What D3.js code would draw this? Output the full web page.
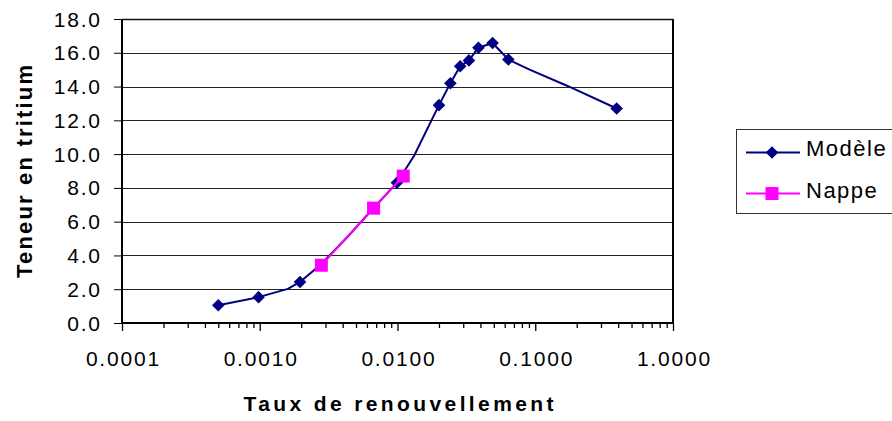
<!DOCTYPE html>
<html>
<head>
<meta charset="utf-8">
<script src="https://cdn.jsdelivr.net/npm/d3@7"></script>
<style>
  html, body { margin: 0; padding: 0; background: #fff; }
  svg { display: block; font-family: "Liberation Sans", Arial, sans-serif; }
</style>
</head>
<body>
<svg id="chart" width="892" height="421"></svg>
<script>
// ---- Data ----
// Modèle series: line passes through every point, markers only where marked = 1
const modelRate    = [0.0005, 0.00098, 0.0016, 0.00196, 0.0028, 0.0044, 0.0066, 0.0099, 0.0132, 0.020, 0.0242, 0.0285, 0.033, 0.0387, 0.049, 0.0638, 0.091, 0.17, 0.39];
const modelTritium = [1.05,   1.53,    2.02,   2.43,    3.5,    5.15,   6.75,   8.3,    9.9,    12.9,  14.2,   15.2,   15.55, 16.3,   16.58, 15.6,   15.0,  14.05, 12.7];
const modelMarked  = [1,      1,       0,      1,       0,      0,      0,      1,      0,      1,     1,      1,      1,     1,      1,     1,      0,     0,     1];
// Nappe series
const nappeRate    = [0.0028, 0.0067, 0.011];
const nappeTritium = [3.42,   6.8,    8.7];
// Axes
const xMajorTicks = [0.0001, 0.001, 0.01, 0.1, 1];
const yTicks = [0, 2, 4, 6, 8, 10, 12, 14, 16, 18];
const seriesNames = ["Modèle", "Nappe"];
const xTitle = "Taux de renouvellement";
const yTitle = "Teneur en tritium";

// ---- Layout ----
const svg = d3.select("#chart");
const L = 122, R = 673, T = 19, B = 323;
const navy = "#000080", magenta = "#FF00FF";
const x = d3.scaleLog().domain([0.0001, 1]).range([L, R]);
const y = d3.scaleLinear().domain([0, 18]).range([B, T]);

// gridlines
svg.append("g").selectAll("line").data(yTicks.filter(v => v > 0)).join("line")
  .attr("x1", L).attr("x2", R)
  .attr("y1", d => Math.round(y(d)) + 0.5).attr("y2", d => Math.round(y(d)) + 0.5)
  .attr("stroke", "#222").attr("stroke-width", 1);

// right border
svg.append("line").attr("x1", R).attr("x2", R).attr("y1", T).attr("y2", B + 1)
  .attr("stroke", "#000").attr("stroke-width", 2);

// minor x ticks
const minorTicks = [];
for (let e = -4; e < 0; e++) for (let m = 2; m <= 9; m++) minorTicks.push(m * Math.pow(10, e));
const xMinor = svg.append("g").attr("transform", `translate(0,${B})`)
  .call(d3.axisBottom(x).tickValues(minorTicks).tickSize(5).tickFormat(""));
xMinor.select(".domain").remove();
xMinor.selectAll("line").attr("stroke", "#000").attr("stroke-width", 1.3);

// major x axis
const xAxis = svg.append("g").attr("transform", `translate(0,${B})`)
  .call(d3.axisBottom(x).tickValues(xMajorTicks).tickSize(8).tickFormat(d3.format(".4f")));
xAxis.select(".domain").attr("stroke", "#000").attr("stroke-width", 2).attr("d", `M${L - 1},0H${R + 1}`);
xAxis.selectAll(".tick line").attr("stroke", "#000").attr("stroke-width", 1.3);
xAxis.selectAll(".tick text")
  .attr("y", 43).attr("dy", 0).attr("dx", 0.9)
  .attr("font-size", 21).attr("letter-spacing", "1.8px").attr("fill", "#000")
  .attr("font-family", "'Liberation Sans', Arial, sans-serif");

// y axis
const yAxis = svg.append("g").attr("transform", `translate(${L},0)`)
  .call(d3.axisLeft(y).tickValues(yTicks).tickSize(8).tickFormat(d3.format(".1f")));
yAxis.select(".domain").attr("stroke", "#000").attr("stroke-width", 2).attr("d", `M0,${T}V${B + 1}`);
yAxis.selectAll(".tick line").attr("stroke", "#000").attr("stroke-width", 1);
yAxis.selectAll(".tick text")
  .attr("x", -20.2).attr("dy", 7)
  .attr("font-size", 21).attr("letter-spacing", "1.8px").attr("fill", "#000")
  .attr("font-family", "'Liberation Sans', Arial, sans-serif");

// top border (gridline 18 already) - ensure dark
svg.append("line").attr("x1", L).attr("x2", R).attr("y1", T + 0.5).attr("y2", T + 0.5)
  .attr("stroke", "#111").attr("stroke-width", 1.5);

// ---- Series ----
const modelData = modelRate.map((r, i) => ({ r, v: modelTritium[i], m: modelMarked[i] }));
const nappeData = nappeRate.map((r, i) => ({ r, v: nappeTritium[i] }));
const line = d3.line().x(d => x(d.r)).y(d => y(d.v));

svg.append("path").datum(modelData).attr("d", line)
  .attr("fill", "none").attr("stroke", navy).attr("stroke-width", 2).attr("stroke-linejoin", "round");

const diamond = s => `M0,${-s}L${s},0L0,${s}L${-s},0Z`;
svg.append("g").selectAll("path").data(modelData.filter(d => d.m)).join("path")
  .attr("transform", d => `translate(${x(d.r)},${y(d.v)})`)
  .attr("d", diamond(6.3)).attr("fill", navy);

svg.append("path").datum(nappeData).attr("d", line)
  .attr("fill", "none").attr("stroke", magenta).attr("stroke-width", 2).attr("stroke-linejoin", "round");
svg.append("g").selectAll("rect").data(nappeData).join("rect")
  .attr("x", d => x(d.r) - 6.5).attr("y", d => y(d.v) - 6.5)
  .attr("width", 13).attr("height", 13).attr("fill", magenta);

// ---- Titles ----
svg.append("text").text(xTitle)
  .attr("x", 398.5).attr("y", 411).attr("text-anchor", "middle")
  .attr("font-size", 21).attr("font-weight", "bold").attr("fill", "#000")
  .attr("textLength", 310).attr("lengthAdjust", "spacing");

svg.append("text").text(yTitle)
  .attr("transform", "translate(32,171.5) rotate(-90)").attr("text-anchor", "middle")
  .attr("font-size", 22).attr("font-weight", "bold").attr("fill", "#000")
  .attr("textLength", 213).attr("lengthAdjust", "spacing");

// ---- Legend ----
const lg = svg.append("g");
lg.append("rect").attr("x", 736.5).attr("y", 129.5).attr("width", 170).attr("height", 84)
  .attr("fill", "#fff").attr("stroke", "#333").attr("stroke-width", 1);
const legendRows = [
  { name: seriesNames[0], color: navy, y: 152.5, shape: "diamond" },
  { name: seriesNames[1], color: magenta, y: 193.5, shape: "square" }
];
legendRows.forEach(row => {
  lg.append("line").attr("x1", 746).attr("x2", 800).attr("y1", row.y).attr("y2", row.y)
    .attr("stroke", row.color).attr("stroke-width", 2);
  if (row.shape === "diamond") {
    lg.append("path").attr("transform", `translate(772,${row.y})`).attr("d", diamond(6.3)).attr("fill", row.color);
  } else {
    lg.append("rect").attr("x", 772 - 6.5).attr("y", row.y - 6.5).attr("width", 13).attr("height", 13).attr("fill", row.color);
  }
  lg.append("text").text(row.name).attr("x", 806).attr("y", row.y + 3.5 + 0)
    .attr("dy", 0)
    .attr("font-size", 22).attr("letter-spacing", "1.5px").attr("fill", "#000");
});
// adjust legend baselines
lg.selectAll("text").attr("y", (d, i, n) => i === 0 ? 155.7 : 198.3);
</script>
</body>
</html>
